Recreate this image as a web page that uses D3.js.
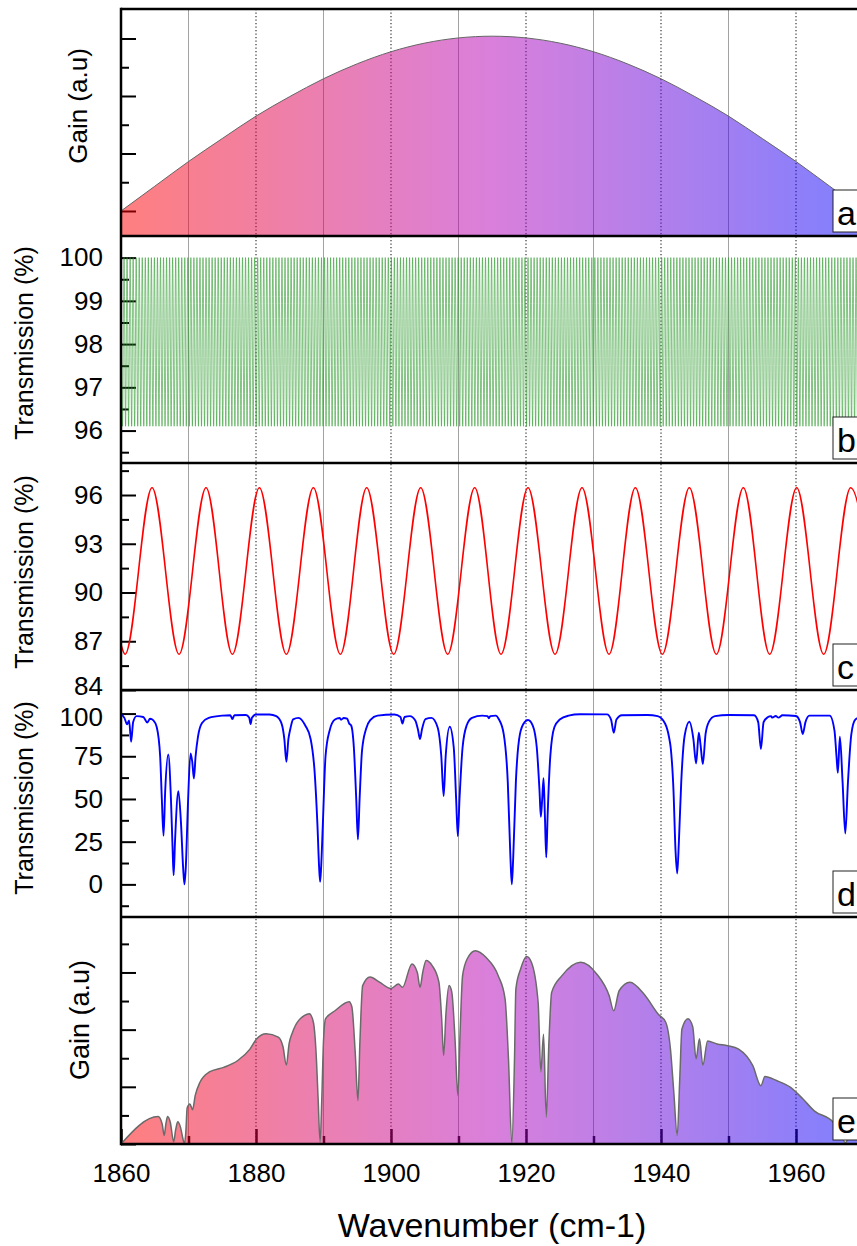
<!DOCTYPE html>
<html>
<head>
<meta charset="utf-8">
<script src="https://cdn.jsdelivr.net/npm/d3@7"></script>
<style>
  body { margin: 0; background: #fff; }
  text { font-family: "Liberation Sans", Arial, sans-serif; }
</style>
</head>
<body>
<script>
var width = 857,
    height = 1246;

// ---- data ----
var wavenumberTicks = [1860, 1880, 1900, 1920, 1940, 1960];
var wavenumberMinor = [1870, 1890, 1910, 1930, 1950, 1970];

// (a) gain profile, a.u.
var gainA = [[1860,1.00],[1865,1.43],[1870,1.86],[1875,2.26],[1880,2.65],[1885,2.99],
             [1890,3.30],[1895,3.56],[1900,3.77],[1905,3.92],[1910,4.01],[1915,4.04],
             [1920,4.01],[1925,3.92],[1930,3.77],[1935,3.56],[1940,3.30],[1945,2.99],
             [1950,2.65],[1955,2.26],[1960,1.86],[1965,1.43],[1970,1.00]];

// (b) etalon fringes, %
var fringeMax = 100,
    fringeMin = 96.1,
    fringeStart = 1860,
    fringePeriod = 0.45;

// (c) transmission maxima / minima, %
var cStart = [1860, 86.8];
var cPeaks = [1864.6, 1872.6, 1880.5, 1888.5, 1896.4, 1904.4, 1912.4, 1920.3, 1928.3, 1936.2, 1944.2, 1952.2, 1960.1, 1968.1];
var cValleys = [1860.6, 1868.6, 1876.5, 1884.5, 1892.5, 1900.4, 1908.4, 1916.3, 1924.3, 1932.3, 1940.2, 1948.2, 1956.1, 1964.1, 1972.1];
var cPeakValue = 96.45,
    cValleyValue = 86.2;

// (d) absorption spectrum, transmission %
var transD = [[1860.0,99.5],[1860.5,97.5],[1860.9,93.7],[1861.2,96],[1861.5,83.5],[1861.8,95],
  [1862.3,98.5],[1863.3,98],[1863.9,94.8],[1864.3,97],[1864.8,96],[1865.3,92],[1865.8,75],
  [1866.05,50],[1866.3,28.5],[1866.55,55],[1867.0,76],[1867.4,50],[1867.65,20],[1867.8,5.4],
  [1868.0,25],[1868.5,54.6],[1868.9,35],[1869.2,10],[1869.4,0],[1869.6,10],[1869.9,45],
  [1870.3,76.7],[1870.55,72],[1870.8,62],[1871.05,75],[1871.4,86.4],[1872.0,94.5],[1873.0,97.5],
  [1875.0,98.8],[1876.2,99],[1876.5,96.8],[1876.8,99],[1878.5,99.2],[1879.0,97.5],[1879.2,93.9],
  [1879.4,97.5],[1880.0,99.5],[1882.0,99.5],[1883.0,98.5],[1883.8,94],[1884.2,85],[1884.5,71.8],
  [1884.8,85],[1885.1,91.3],[1885.5,96.6],[1886.3,97.5],[1887.3,93],[1888.1,85],[1888.7,65],
  [1889.1,35],[1889.35,10],[1889.5,1.5],[1889.65,10],[1889.9,35],[1890.3,75],[1890.9,90],
  [1891.7,96.5],[1892.4,97.4],[1892.6,96.4],[1893.0,97.4],[1893.5,97],[1893.8,94.2],[1894.1,93],
  [1894.5,80],[1894.85,50],[1895.1,26.3],[1895.35,50],[1895.7,78],[1896.3,91],[1897.0,96.5],
  [1898.0,98.8],[1900.5,99.5],[1901.4,98],[1901.7,94.2],[1902.0,98],[1902.8,98.5],[1903.6,96],
  [1904.0,90.5],[1904.3,85.1],[1904.6,91],[1905.1,96.8],[1906.0,97.5],[1906.9,92],[1907.45,75],
  [1907.8,51.7],[1908.1,75],[1908.7,92.3],[1909.3,80],[1909.65,50],[1909.9,28.3],[1910.15,50],
  [1910.6,80],[1911.2,93],[1912.0,97.5],[1913.5,98.8],[1914.3,98.5],[1914.5,97.3],[1914.7,98.5],
  [1915.5,98.8],[1916.0,96.5],[1916.7,88],[1917.3,60],[1917.7,15],[1917.9,0.1],[1918.1,15],
  [1918.5,60],[1919.1,88],[1919.8,95],[1920.3,96.2],[1921.0,93],[1921.6,80],[1922.0,55],
  [1922.2,39.6],[1922.4,50],[1922.6,62.1],[1922.8,40],[1923.0,15.8],[1923.2,40],[1923.6,75],
  [1924.2,92],[1925.0,96.5],[1926.3,98.8],[1928.0,99.6],[1932.0,99.5],[1932.6,96.5],[1933.0,88.8],
  [1933.4,96.5],[1934.2,99],[1938.0,99.2],[1939.5,98.5],[1940.6,94.2],[1941.2,86],[1941.45,79.6],
  [1941.85,55],[1942.15,20],[1942.4,6.4],[1942.65,25],[1943.0,60],[1943.5,87],[1944.2,95.2],
  [1944.8,85],[1945.2,70.8],[1945.6,88.8],[1945.85,82],[1946.2,70.4],[1946.6,88],[1947.1,95.2],
  [1948.0,98.5],[1950.0,99.2],[1953.8,99],[1954.4,95],[1954.8,79.2],[1955.2,95],[1955.8,97.8],
  [1956.3,98.5],[1956.5,97.6],[1957.0,98.6],[1957.4,97.6],[1958.0,99.0],[1960.0,98.6],[1960.6,95],
  [1961.0,88],[1961.4,95],[1962.0,98.8],[1965.0,98.8],[1965.7,90],[1966.0,75],[1966.2,65.3],
  [1966.5,86.4],[1966.9,60],[1967.3,29.8],[1967.7,60],[1968.2,88],[1968.8,96.5],[1970.0,98.5]];

// (e) resulting gain, a.u.
var gainE = [[1860.0,0],[1865.5,0.48],[1866.1,0.35],[1866.4,0.15],[1866.65,0.35],[1866.9,0.48],
  [1867.3,0.38],[1867.8,0.04],[1868.1,0.25],[1868.4,0.39],[1868.8,0.3],[1869.2,0.08],[1869.4,0],
  [1869.6,0.2],[1869.8,0.63],[1870.2,0.70],[1870.6,0.60],[1871.0,0.85],[1871.7,1.08],[1873.1,1.26],
  [1875.2,1.34],[1877.3,1.46],[1879.1,1.66],[1880.1,1.84],[1881.5,1.93],[1883.3,1.87],[1884.0,1.70],
  [1884.5,1.38],[1884.9,1.75],[1885.4,1.95],[1887.2,2.25],[1887.9,2.28],[1888.5,2.13],[1888.9,1.6],
  [1889.2,0.8],[1889.5,0.03],[1889.75,0.8],[1890.0,1.8],[1890.3,2.19],[1891.7,2.33],[1893.8,2.49],
  [1894.2,2.40],[1894.7,1.6],[1895.1,0.76],[1895.4,1.8],[1895.8,2.77],[1896.9,2.92],[1898.3,2.83],
  [1900.0,2.72],[1901.1,2.80],[1901.7,2.74],[1903.1,3.15],[1903.9,3.0],[1904.3,2.74],[1904.7,3.0],
  [1905.2,3.21],[1906.1,3.12],[1907.1,2.83],[1907.5,2.2],[1907.8,1.55],[1908.15,2.3],[1908.6,2.77],
  [1909.0,2.66],[1909.5,1.8],[1909.9,0.85],[1910.25,2.0],[1910.6,2.94],[1911.3,3.24],[1912.5,3.38],
  [1914.1,3.26],[1915.9,2.94],[1916.9,2.54],[1917.4,1.5],[1917.9,0],[1918.3,1.5],[1918.5,2.71],
  [1919.2,3.06],[1920.1,3.28],[1920.8,3.18],[1921.8,2.47],[1922.2,1.26],[1922.6,1.92],[1923.0,0.47],
  [1923.4,1.8],[1923.8,2.65],[1925.3,2.94],[1928.1,3.18],[1930.5,2.97],[1932.3,2.60],[1933.0,2.33],
  [1933.8,2.68],[1935.4,2.83],[1937.5,2.62],[1939.6,2.27],[1940.7,2.13],[1941.4,1.66],[1941.9,0.9],
  [1942.4,0.15],[1942.8,1.2],[1943.1,2.01],[1944.0,2.19],[1944.7,2.05],[1945.2,1.49],[1945.7,1.84],
  [1946.2,1.38],[1946.9,1.80],[1948.3,1.75],[1949.9,1.72],[1951.5,1.66],[1953.6,1.37],[1954.8,1.02],
  [1955.4,1.18],[1957.1,1.11],[1959.2,0.99],[1961.0,0.79],[1962.7,0.58],[1965.5,0.38],[1966.0,0.30],
  [1966.2,0.12],[1966.5,0.22],[1967.3,0.02],[1968.0,0.15],[1970.0,0.05]];

var aMajor = [1, 2, 3, 4], aMinor = [1.5, 2.5, 3.5];
var bTicks = [96, 97, 98, 99, 100], bMinor = [95.5, 96.5, 97.5, 98.5, 99.5];
var cTicks = [84, 87, 90, 93, 96], cMinor = [85.5, 88.5, 91.5, 94.5, 97.5];
var dTicks = [0, 25, 50, 75, 100], dMinor = [-12.5, 12.5, 37.5, 62.5, 87.5];
var eMajor = [0, 1, 2, 3], eMinor = [0.5, 1.5, 2.5, 3.5];

var panelLetters = ["a", "b", "c", "d", "e"];

// ---- layout ----
var left = 121, right = 863.5;
var tops = [9, 236, 463, 690, 917], panelH = 227;

var x = d3.scaleLinear().domain([1860, 1970]).range([left, right]);

var ya = d3.scaleLinear().domain([0.565, 4.513]).range([236, 9]);
var yb = d3.scaleLinear().domain([95.25, 100.5]).range([463, 236]);
var yc = d3.scaleLinear().domain([84, 97.97]).range([690, 463]);
var yd = d3.scaleLinear().domain([-19.1, 113.8]).range([917, 690]);
var ye = d3.scaleLinear().domain([0, 3.97]).range([1144, 917]);

var svg = d3.select("body").append("svg")
    .attr("width", width)
    .attr("height", height);

var defs = svg.append("defs");

var grad = defs.append("linearGradient")
    .attr("id", "gainGrad")
    .attr("gradientUnits", "userSpaceOnUse")
    .attr("x1", left).attr("x2", right)
    .attr("y1", 0).attr("y2", 0);
grad.append("stop").attr("offset", 0).attr("stop-color", "#ff0000");
grad.append("stop").attr("offset", 0.5).attr("stop-color", "#b400b8");
grad.append("stop").attr("offset", 1).attr("stop-color", "#0000ff");

tops.forEach(function(t, i) {
  defs.append("clipPath").attr("id", "clip" + i)
    .append("rect")
      .attr("x", left).attr("y", t)
      .attr("width", right - left).attr("height", panelH);
});

// grid lines
var grid = svg.append("g");
grid.selectAll("line.minor")
  .data(wavenumberMinor)
  .enter().append("line")
    .attr("class", "minor")
    .attr("x1", function(d) { return x(d); })
    .attr("x2", function(d) { return x(d); })
    .attr("y1", tops[0]).attr("y2", tops[4] + panelH)
    .attr("stroke", "#8a8a8a")
    .attr("stroke-width", 0.8);
grid.selectAll("line.major")
  .data(wavenumberTicks.slice(1))
  .enter().append("line")
    .attr("class", "major")
    .attr("x1", function(d) { return x(d); })
    .attr("x2", function(d) { return x(d); })
    .attr("y1", tops[0]).attr("y2", tops[4] + panelH)
    .attr("stroke", "#222")
    .attr("stroke-width", 1.1)
    .attr("stroke-dasharray", "1.3,2.2");

// y axes (ticks point inwards)
function yAxis(scale, major, minor, labels) {
  var g = svg.append("g").attr("transform", "translate(" + left + ",0)");
  g.call(d3.axisLeft(scale).tickValues(major).tickSize(-15).tickPadding(18)
      .tickFormat(labels ? d3.format("d") : ""));
  g.append("g").call(d3.axisLeft(scale).tickValues(minor).tickSize(-8).tickFormat(""));
  g.selectAll(".domain").remove();
  g.selectAll("line").attr("stroke", "#000").attr("stroke-width", 2);
  g.selectAll("text")
    .attr("font-size", 26)
    .attr("fill", "#000")
    .style("font-family", "Liberation Sans, Arial, sans-serif");
  return g;
}

yAxis(ya, aMajor, aMinor, false);
yAxis(yb, bTicks, bMinor, true);
var cAxis = yAxis(yc, cTicks, cMinor, true);
var dAxis = yAxis(yd, dTicks, dMinor, true);
yAxis(ye, eMajor, eMinor, false);

// the "84" and "100" labels sit at the c/d seam
cAxis.selectAll("text").filter(function(d) { return d == 84; }).attr("dy", "0.18em");
dAxis.selectAll("text").filter(function(d) { return d == 100; }).attr("dy", "0.45em");

// x axis at the bottom
var xg = svg.append("g").attr("transform", "translate(0," + (tops[4] + panelH) + ")");
xg.call(d3.axisBottom(x).tickValues(wavenumberTicks).tickSize(-15).tickPadding(19.5).tickFormat(d3.format("d")));
xg.append("g").call(d3.axisBottom(x).tickValues(wavenumberMinor).tickSize(-8).tickFormat(""));
xg.selectAll(".domain").remove();
xg.selectAll("line").attr("stroke", "#000").attr("stroke-width", 2.5);
xg.selectAll("text")
  .attr("font-size", 26)
  .attr("fill", "#000")
  .style("font-family", "Liberation Sans, Arial, sans-serif");

// (a) gain
var areaA = d3.area()
    .x(function(d) { return x(d[0]); })
    .y0(236)
    .y1(function(d) { return ya(d[1]); })
    .curve(d3.curveMonotoneX);
var lineA = areaA.lineY1();

var ga = svg.append("g").attr("clip-path", "url(#clip0)");
ga.append("path").datum(gainA)
  .attr("d", areaA)
  .attr("fill", "url(#gainGrad)")
  .attr("fill-opacity", 0.5);
ga.append("path").datum(gainA)
  .attr("d", lineA)
  .attr("fill", "none")
  .attr("stroke", "#666")
  .attr("stroke-width", 1);

// (b) etalon fringes
var fringes = [];
for (var k = 0; fringeStart + k * fringePeriod / 2 <= 1971; k++)
  fringes.push([fringeStart + k * fringePeriod / 2, k % 2 == 0 ? fringeMax : fringeMin]);

svg.append("g").attr("clip-path", "url(#clip1)")
  .append("path").datum(fringes)
    .attr("d", d3.line()
      .x(function(d) { return x(d[0]); })
      .y(function(d) { return yb(d[1]); })
      .curve(d3.curveMonotoneX))
    .attr("fill", "none")
    .attr("stroke", "#2e9a2e")
    .attr("stroke-width", 0.6);

// (c) transmission
var cPoints = [cStart];
cValleys.forEach(function(v, i) {
  cPoints.push([v, cValleyValue]);
  if (i < cPeaks.length) cPoints.push([cPeaks[i], cPeakValue]);
});

svg.append("g").attr("clip-path", "url(#clip2)")
  .append("path").datum(cPoints)
    .attr("d", d3.line()
      .x(function(d) { return x(d[0]); })
      .y(function(d) { return yc(d[1]); })
      .curve(d3.curveMonotoneX))
    .attr("fill", "none")
    .attr("stroke", "#ff0000")
    .attr("stroke-width", 1.6);

// (d) absorption
svg.append("g").attr("clip-path", "url(#clip3)")
  .append("path").datum(transD)
    .attr("d", d3.line()
      .x(function(d) { return x(d[0]); })
      .y(function(d) { return yd(d[1]); })
      .curve(d3.curveMonotoneX))
    .attr("fill", "none")
    .attr("stroke", "#0000ff")
    .attr("stroke-width", 1.9);

// (e) resulting gain
var areaE = d3.area()
    .x(function(d) { return x(d[0]); })
    .y0(ye(0))
    .y1(function(d) { return ye(d[1]); })
    .curve(d3.curveMonotoneX);

var ge = svg.append("g").attr("clip-path", "url(#clip4)");
ge.append("path").datum(gainE)
  .attr("d", areaE)
  .attr("fill", "url(#gainGrad)")
  .attr("fill-opacity", 0.5);
ge.append("path").datum(gainE)
  .attr("d", areaE.lineY1())
  .attr("fill", "none")
  .attr("stroke", "#6a6a6a")
  .attr("stroke-width", 1.5);

// frame
svg.append("line")
  .attr("x1", left).attr("x2", left)
  .attr("y1", tops[0] - 1.25).attr("y2", tops[4] + panelH + 1.25)
  .attr("stroke", "#000").attr("stroke-width", 2.5);

svg.selectAll("line.border")
  .data(tops.concat([tops[4] + panelH]))
  .enter().append("line")
    .attr("class", "border")
    .attr("x1", left).attr("x2", width)
    .attr("y1", function(d) { return d; })
    .attr("y2", function(d) { return d; })
    .attr("stroke", "#000")
    .attr("stroke-width", 2.5);

// panel letters
var lg = svg.selectAll("g.letter")
  .data(panelLetters)
  .enter().append("g")
    .attr("class", "letter");
lg.append("rect")
  .attr("x", 833)
  .attr("y", function(d, i) { return tops[i] + panelH - 46; })
  .attr("width", 40)
  .attr("height", 42)
  .attr("fill", "#fff")
  .attr("stroke", "#222")
  .attr("stroke-width", 1);
lg.append("text")
  .attr("x", 837)
  .attr("y", function(d, i) { return tops[i] + panelH - 11; })
  .attr("font-size", 34)
  .text(function(d) { return d; });

// axis titles
var titles = [
  {t: "Gain (a.u)", x: 78, y: 106, s: 26},
  {t: "Transmission (%)", x: 24, y: 343, s: 25},
  {t: "Transmission (%)", x: 24, y: 572, s: 25},
  {t: "Transmission (%)", x: 24, y: 798, s: 25},
  {t: "Gain (a.u)", x: 80, y: 1020, s: 27}
];
svg.selectAll("text.ytitle")
  .data(titles)
  .enter().append("text")
    .attr("class", "ytitle")
    .attr("transform", function(d) { return "translate(" + d.x + "," + d.y + ") rotate(-90)"; })
    .attr("text-anchor", "middle")
    .attr("dominant-baseline", "central")
    .attr("font-size", function(d) { return d.s; })
    .text(function(d) { return d.t; });

svg.append("text")
  .attr("x", 492)
  .attr("y", 1237)
  .attr("text-anchor", "middle")
  .attr("font-size", 34)
  .text("Wavenumber (cm-1)");
</script>
</body>
</html>
